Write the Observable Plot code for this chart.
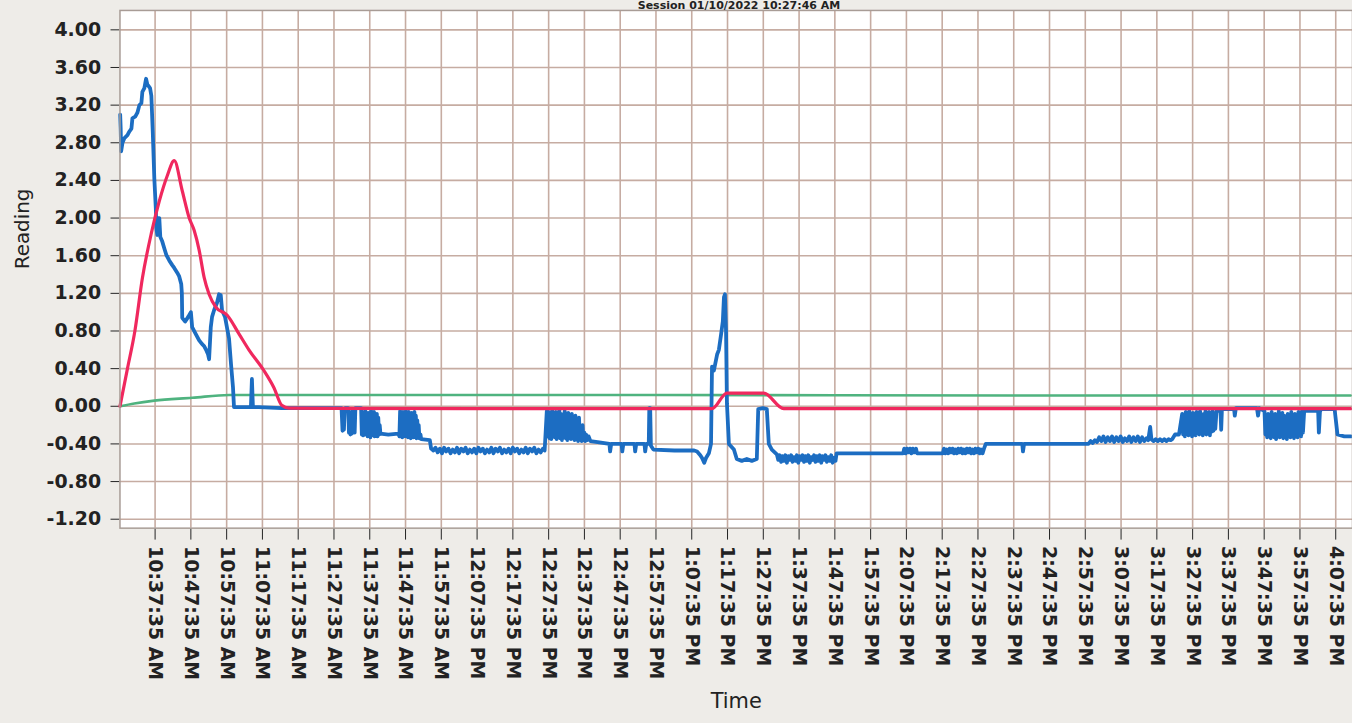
<!DOCTYPE html>
<html>
<head>
<meta charset="utf-8">
<script src="https://cdn.jsdelivr.net/npm/d3@7"></script>
<script src="https://cdn.jsdelivr.net/npm/@observablehq/plot@0.6"></script>
<style>
  html, body { margin: 0; padding: 0; background: #eeece8; overflow: hidden; }
  #wrap { position: relative; width: 1352px; height: 723px; overflow: hidden; }
  #title {
    position: absolute; left: 120px; width: 1238px; top: 0;
    text-align: center; font: bold 11px/11px "DejaVu Sans", sans-serif;
    color: #222; white-space: nowrap;
  }
  #chart { position: absolute; left: 0; top: 0; }
</style>
</head>
<body>
<div id="wrap">
  <div id="chart"></div>
  <div id="title">Session 01/10/2022 10:27:46 AM</div>
</div>
<script>
// Session start and the clock labels on the time axis
const sessionDate = "2022-01-10";
const sessionStartLabel = "10:27:46 AM";
const sessionLengthMinutes = 344.5;

const timeTickLabels = [
  "10:37:35 AM", "10:47:35 AM", "10:57:35 AM", "11:07:35 AM", "11:17:35 AM",
  "11:27:35 AM", "11:37:35 AM", "11:47:35 AM", "11:57:35 AM", "12:07:35 PM",
  "12:17:35 PM", "12:27:35 PM", "12:37:35 PM", "12:47:35 PM", "12:57:35 PM",
  "1:07:35 PM", "1:17:35 PM", "1:27:35 PM", "1:37:35 PM", "1:47:35 PM",
  "1:57:35 PM", "2:07:35 PM", "2:17:35 PM", "2:27:35 PM", "2:37:35 PM",
  "2:47:35 PM", "2:57:35 PM", "3:07:35 PM", "3:17:35 PM", "3:27:35 PM",
  "3:37:35 PM", "3:47:35 PM", "3:57:35 PM", "4:07:35 PM"
];

const readingTicks = [-1.2, -0.8, -0.4, 0, 0.4, 0.8, 1.2, 1.6, 2.0, 2.4, 2.8, 3.2, 3.6, 4.0];

// Readings as [minutes since session start, reading]
const blueReadings = [
  [0.06, 3.10], [0.2, 2.95], [0.33, 2.71], [0.7, 2.80], [1.25, 2.85], [2.09, 2.88],
  [2.64, 2.92], [3.2, 2.95], [3.48, 3.06], [4.31, 3.08], [4.87, 3.12], [5.43, 3.20],
  [5.98, 3.22], [6.26, 3.34], [6.82, 3.38], [7.29, 3.48], [7.65, 3.42], [8.41, 3.38],
  [8.77, 3.30], [9.18, 2.90], [9.6, 2.42], [10.02, 2.10], [10.16, 1.90], [10.44, 1.82],
  [10.72, 2.00], [10.99, 2.00], [11.27, 1.80], [11.83, 1.75], [12.38, 1.68], [12.94, 1.61],
  [13.77, 1.55], [14.61, 1.50], [15.17, 1.47], [16.0, 1.42], [16.56, 1.38], [17.12, 1.30],
  [17.3, 1.20], [17.4, 0.94], [18.23, 0.90], [19.07, 0.95], [19.82, 1.00], [20.18, 0.84],
  [21.01, 0.78], [22.13, 0.70], [22.96, 0.66], [23.52, 0.64], [24.07, 0.60], [24.63, 0.55],
  [24.91, 0.50], [25.38, 0.84], [25.74, 0.95], [26.3, 1.02], [27.13, 1.10], [27.69, 1.19],
  [28.17, 1.18], [28.53, 1.02], [29.36, 0.95], [30.48, 0.72], [31.03, 0.45], [31.59, 0.20],
  [31.87, -0.01], [33.26, -0.01], [36.6, -0.01], [36.88, 0.29], [37.16, -0.01], [38.83, -0.01],
  [45.23, -0.02], [61.93, -0.02],
  // 11:30 – 11:55 AM
  [62.2, -0.26], [62.4, -0.03], [62.6, -0.25], [62.8, -0.04], [63.0, -0.02], [63.8, -0.02],
  [64.0, -0.28], [64.2, -0.06], [64.4, -0.30], [64.6, -0.10], [64.8, -0.29], [65.0, -0.05],
  [65.2, -0.27], [65.4, -0.04], [65.6, -0.28], [65.8, -0.02], [67.4, -0.02],
  [67.6, -0.30], [67.8, -0.06], [68.0, -0.31], [68.2, -0.08], [68.4, -0.30], [68.6, -0.05],
  [68.8, -0.29], [69.0, -0.12], [69.2, -0.32], [69.4, -0.07], [69.6, -0.30], [69.8, -0.10],
  [70.0, -0.33], [70.2, -0.05], [70.4, -0.30], [70.6, -0.14], [70.8, -0.31], [71.0, -0.06],
  [71.2, -0.32], [71.4, -0.10], [71.6, -0.30], [71.8, -0.08], [72.0, -0.32], [72.2, -0.12],
  [72.4, -0.30], [72.6, -0.20], [72.8, -0.29], [75.0, -0.30], [77.8, -0.29],
  [78.1, -0.32], [78.3, -0.05], [78.5, -0.30], [78.7, -0.08], [78.9, -0.33], [79.1, -0.06],
  [79.3, -0.30], [79.5, -0.12], [79.7, -0.32], [79.9, -0.05], [80.1, -0.31], [80.3, -0.09],
  [80.5, -0.33], [80.7, -0.06], [80.9, -0.30], [81.1, -0.10], [81.3, -0.34], [81.5, -0.07],
  [81.7, -0.31], [81.9, -0.12], [82.1, -0.33], [82.3, -0.06], [82.5, -0.30], [82.7, -0.10],
  [82.9, -0.34], [83.1, -0.15], [83.3, -0.32], [83.5, -0.20], [83.7, -0.34], [84.0, -0.30],
  [84.2, -0.35], [86.6, -0.36], [86.97, -0.45],
  // 11:55 AM – 12:25 PM
  [87.6, -0.47], [88.2, -0.44], [88.8, -0.49], [89.4, -0.45], [90.0, -0.50], [90.6, -0.44],
  [91.2, -0.48], [91.8, -0.45], [92.4, -0.50], [93.0, -0.46], [93.6, -0.49], [94.2, -0.44],
  [94.8, -0.50], [95.4, -0.45], [96.0, -0.48], [96.6, -0.44], [97.2, -0.50], [97.8, -0.46],
  [98.4, -0.49], [99.0, -0.45], [99.6, -0.50], [100.2, -0.44], [100.8, -0.48], [101.4, -0.45],
  [102.0, -0.50], [102.6, -0.46], [103.2, -0.49], [103.8, -0.44], [104.4, -0.50], [105.0, -0.45],
  [105.6, -0.48], [106.2, -0.44], [106.8, -0.50], [107.4, -0.46], [108.0, -0.49], [108.6, -0.45],
  [109.2, -0.50], [109.8, -0.44], [110.4, -0.48], [111.0, -0.45], [111.6, -0.50], [112.2, -0.46],
  [112.8, -0.49], [113.4, -0.44], [114.0, -0.50], [114.6, -0.45], [115.2, -0.48], [115.8, -0.44],
  [116.4, -0.50], [117.0, -0.46], [117.6, -0.49], [118.2, -0.45], [118.7, -0.47],
  // 12:27 – 12:40 PM
  [119.3, -0.05], [119.55, -0.32], [119.8, -0.06], [120.05, -0.34], [120.3, -0.08], [120.55, -0.35],
  [120.8, -0.04], [121.05, -0.30], [121.3, -0.10], [121.55, -0.33], [121.8, -0.06], [122.05, -0.35],
  [122.3, -0.12], [122.55, -0.30], [122.8, -0.04], [123.05, -0.34], [123.3, -0.08], [123.55, -0.36],
  [123.8, -0.10], [124.05, -0.31], [124.3, -0.05], [124.55, -0.34], [124.8, -0.14], [125.05, -0.36],
  [125.3, -0.07], [125.55, -0.33], [125.8, -0.12], [126.05, -0.35], [126.3, -0.08], [126.55, -0.32],
  [126.8, -0.18], [127.05, -0.36], [127.3, -0.10], [127.55, -0.34], [127.8, -0.14], [128.05, -0.37],
  [128.3, -0.12], [128.55, -0.34], [128.8, -0.22], [129.05, -0.37], [129.3, -0.20], [129.55, -0.36],
  [129.8, -0.28], [130.05, -0.37], [130.3, -0.30], [130.6, -0.36], [131.0, -0.32], [131.5, -0.37],
  [133.5, -0.38], [136.8, -0.40], [137.0, -0.48], [137.3, -0.40], [140.2, -0.40], [140.4, -0.48],
  [140.7, -0.40], [143.8, -0.40], [144.0, -0.48], [144.3, -0.40], [146.6, -0.40], [146.8, -0.48],
  [147.1, -0.40], [147.8, -0.40], [147.95, -0.02], [148.2, -0.02], [148.4, -0.42], [149.1, -0.46],
  [155.0, -0.47], [160.5, -0.47], [161.3, -0.48], [162.2, -0.52], [162.7, -0.55], [163.3, -0.60],
  [163.8, -0.55], [164.6, -0.50], [165.2, -0.40],
  // spike near 1:15 PM
  [165.48, 0.42], [166.0, 0.38], [166.9, 0.55], [167.4, 0.60], [168.0, 0.76], [168.5, 0.90],
  [168.82, 1.16], [169.1, 1.19], [169.4, 0.80], [169.65, 0.03], [170.2, -0.40], [171.6, -0.46],
  [172.4, -0.56], [173.8, -0.58], [175.2, -0.56], [176.6, -0.58], [178.0, -0.56], [178.4, -0.03],
  [179.7, -0.02], [180.8, -0.03], [181.35, -0.40], [182.2, -0.46],
  // 1:31 – 1:48 PM
  [183.6, -0.51], [184.0, -0.57], [184.4, -0.52], [184.8, -0.59], [185.2, -0.53], [185.6, -0.58],
  [186.0, -0.52], [186.4, -0.60], [186.8, -0.53], [187.2, -0.57], [187.6, -0.52], [188.0, -0.59],
  [188.4, -0.54], [188.8, -0.58], [189.2, -0.52], [189.6, -0.60], [190.0, -0.53], [190.4, -0.57],
  [190.8, -0.52], [191.2, -0.59], [191.6, -0.53], [192.0, -0.58], [192.4, -0.52], [192.8, -0.60],
  [193.2, -0.54], [193.6, -0.57], [194.0, -0.52], [194.4, -0.59], [194.8, -0.53], [195.2, -0.58],
  [195.6, -0.52], [196.0, -0.60], [196.4, -0.53], [196.8, -0.57], [197.2, -0.52], [197.6, -0.59],
  [198.0, -0.54], [198.4, -0.58], [198.8, -0.52], [199.2, -0.60], [199.6, -0.55], [200.0, -0.58],
  [200.3, -0.50], [208.6, -0.50],
  // 2:05 – 2:30 PM
  [218.9, -0.50], [219.2, -0.45], [219.6, -0.50], [220.0, -0.45], [220.4, -0.49], [220.8, -0.45],
  [221.2, -0.50], [221.6, -0.45], [222.0, -0.49], [222.5, -0.45], [222.8, -0.50], [230.0, -0.50],
  [230.3, -0.45], [230.7, -0.50], [231.1, -0.46], [231.5, -0.50], [231.9, -0.45], [232.3, -0.49],
  [232.7, -0.45], [233.1, -0.50], [233.5, -0.46], [233.9, -0.50], [234.3, -0.45], [234.7, -0.49],
  [235.1, -0.45], [235.5, -0.50], [235.9, -0.46], [236.3, -0.50], [236.7, -0.45], [237.1, -0.49],
  [237.5, -0.45], [237.9, -0.50], [238.3, -0.46], [238.7, -0.50], [239.1, -0.45], [239.5, -0.49],
  [239.9, -0.45], [240.3, -0.50], [240.7, -0.46], [241.1, -0.50], [241.5, -0.45], [242.0, -0.40],
  [252.2, -0.40], [252.4, -0.48], [252.7, -0.40], [262.0, -0.40],
  // 3:00 – 3:25 PM
  [270.7, -0.40], [271.3, -0.37], [271.9, -0.39], [272.5, -0.36], [273.1, -0.38], [273.7, -0.33],
  [274.3, -0.37], [274.9, -0.32], [275.5, -0.38], [276.1, -0.33], [276.7, -0.37], [277.3, -0.32],
  [277.9, -0.38], [278.5, -0.33], [279.1, -0.37], [279.7, -0.32], [280.3, -0.38], [280.9, -0.34],
  [281.5, -0.37], [282.1, -0.32], [282.7, -0.38], [283.3, -0.33], [283.9, -0.37], [284.5, -0.32],
  [285.1, -0.38], [285.7, -0.33], [286.3, -0.37], [286.9, -0.34], [287.4, -0.36], [287.95, -0.22],
  [288.3, -0.35], [288.9, -0.37], [289.5, -0.35], [290.1, -0.37], [290.7, -0.35], [291.3, -0.37],
  [291.9, -0.35], [292.5, -0.37], [293.1, -0.35], [293.7, -0.36], [294.1, -0.35], [294.9, -0.30],
  [296.0, -0.30],
  // 3:25 – 3:36 PM
  [296.9, -0.08], [297.15, -0.30], [297.4, -0.10], [297.65, -0.32], [297.9, -0.06], [298.15, -0.28],
  [298.4, -0.12], [298.65, -0.31], [298.9, -0.05], [299.15, -0.29], [299.4, -0.10], [299.65, -0.32],
  [299.9, -0.07], [300.15, -0.30], [300.4, -0.14], [300.65, -0.31], [300.9, -0.06], [301.15, -0.27],
  [301.4, -0.10], [301.65, -0.30], [301.9, -0.05], [302.15, -0.29], [302.4, -0.12], [302.65, -0.31],
  [302.9, -0.08], [303.15, -0.28], [303.4, -0.05], [303.65, -0.30], [303.9, -0.12], [304.15, -0.29],
  [304.4, -0.06], [304.65, -0.31], [304.9, -0.10], [305.15, -0.27], [305.4, -0.05], [305.65, -0.26],
  [305.9, -0.08], [306.15, -0.24], [306.5, -0.05], [307.6, -0.05], [307.8, -0.25], [308.0, -0.04],
  [308.4, -0.03], [311.4, -0.03], [311.6, -0.10], [311.9, -0.02], [317.8, -0.02], [318.1, -0.10],
  [318.4, -0.02],
  // 3:48 – 4:10 PM
  [319.9, -0.05], [320.15, -0.30], [320.4, -0.10], [320.65, -0.33], [320.9, -0.08], [321.15, -0.31],
  [321.4, -0.12], [321.65, -0.34], [321.9, -0.06], [322.15, -0.30], [322.4, -0.14], [322.65, -0.33],
  [322.9, -0.08], [323.15, -0.35], [323.4, -0.10], [323.65, -0.31], [323.9, -0.05], [324.15, -0.33],
  [324.4, -0.12], [324.65, -0.30], [324.9, -0.07], [325.15, -0.34], [325.4, -0.10], [325.65, -0.32],
  [325.9, -0.14], [326.15, -0.35], [326.4, -0.08], [326.65, -0.31], [326.9, -0.12], [327.15, -0.33],
  [327.4, -0.06], [327.65, -0.30], [327.9, -0.10], [328.15, -0.34], [328.4, -0.08], [328.65, -0.32],
  [328.9, -0.14], [329.15, -0.33], [329.4, -0.06], [329.65, -0.30], [329.9, -0.10], [330.15, -0.32],
  [330.4, -0.05], [330.65, -0.28], [331.0, -0.05], [332.5, -0.05], [334.9, -0.05], [335.1, -0.28],
  [335.4, -0.06], [335.7, -0.03], [338.6, -0.03], [339.5, -0.03], [340.3, -0.30], [342.2, -0.32],
  [344.0, -0.32]
];

const redReadings = [
  [0, 0], [2.09, 0.40], [4.17, 0.80], [6.26, 1.36], [8.77, 1.84], [10.99, 2.18],
  [13.22, 2.45], [15.17, 2.61], [17.4, 2.29], [19.35, 2.00], [20.73, 1.87], [22.13, 1.66],
  [23.52, 1.37], [24.91, 1.19], [26.86, 1.05], [29.92, 0.97], [33.26, 0.77], [36.04, 0.60],
  [40.22, 0.38], [43.0, 0.20], [45.23, 0.01], [47.18, -0.02], [100.0, -0.025], [165.48, -0.025],
  [169.65, 0.14], [179.95, 0.14], [185.52, -0.025], [260.0, -0.025], [344.0, -0.025]
];

const greenReadings = [
  [0, 0], [4.0, 0.03], [9.6, 0.06], [20.2, 0.09], [30.5, 0.12], [60.0, 0.12],
  [150.0, 0.12], [250.0, 0.115], [344.0, 0.115]
];

const parseClock = d3.timeParse("%Y-%m-%d %I:%M:%S %p");
const sessionStart = parseClock(`${sessionDate} ${sessionStartLabel}`);
const atMinute = (m) => new Date(+sessionStart + m * 60000);
const toRows = (pairs) => pairs.map(([m, v]) => ({time: atMinute(m), reading: v}));

const timeTicks = timeTickLabels.map((s) => parseClock(`${sessionDate} ${s}`));
const blue = toRows(blueReadings);
const red = toRows(redReadings);
const green = toRows(greenReadings);

const gridColor = "#c6aca2";

const chart = Plot.plot({
  width: 1358,
  height: 723,
  marginLeft: 120,
  marginRight: 0,
  marginTop: 10,
  marginBottom: 193,
  style: {
    background: "transparent",
    fontFamily: "'DejaVu Sans', sans-serif",
    fontSize: "19px",
    fontWeight: "bold",
    color: "#222"
  },
  x: {
    type: "time",
    domain: [sessionStart, atMinute(sessionLengthMinutes)],
    ticks: timeTicks,
    tickFormat: d3.timeFormat("%-I:%M:%S %p"),
    tickRotate: 90,
    tickSize: 12,
    tickPadding: 6,
    label: null
  },
  y: {
    domain: [-1.295, 4.206],
    ticks: readingTicks,
    tickFormat: (d) => d.toFixed(2),
    tickSize: 9,
    tickPadding: 10,
    label: null
  },
  marks: [
    Plot.frame({fill: "white", stroke: null}),
    Plot.ruleX(timeTicks, {stroke: gridColor, strokeWidth: 1.6}),
    Plot.ruleY(readingTicks, {stroke: gridColor, strokeWidth: 1.6}),
    Plot.line(green, {x: "time", y: "reading", stroke: "#4fb37f", strokeWidth: 2.6, curve: "monotone-x"}),
    Plot.line(blue, {x: "time", y: "reading", stroke: "#1c6dc2", strokeWidth: 3.8}),
    Plot.line(red, {x: "time", y: "reading", stroke: "#f0285e", strokeWidth: 3.2, curve: "monotone-x"}),
    Plot.frame({stroke: "#a89c96", strokeWidth: 1.5}),
    Plot.text(["Reading"], {text: (d) => d, frameAnchor: "left", rotate: -90, dx: -98, fontSize: 20, fontWeight: "normal"}),
    Plot.text(["Time"], {text: (d) => d, frameAnchor: "bottom", dy: 181, fontSize: 21, fontWeight: "normal"})
  ]
});

document.getElementById("chart").appendChild(chart);
</script>
</body>
</html>
